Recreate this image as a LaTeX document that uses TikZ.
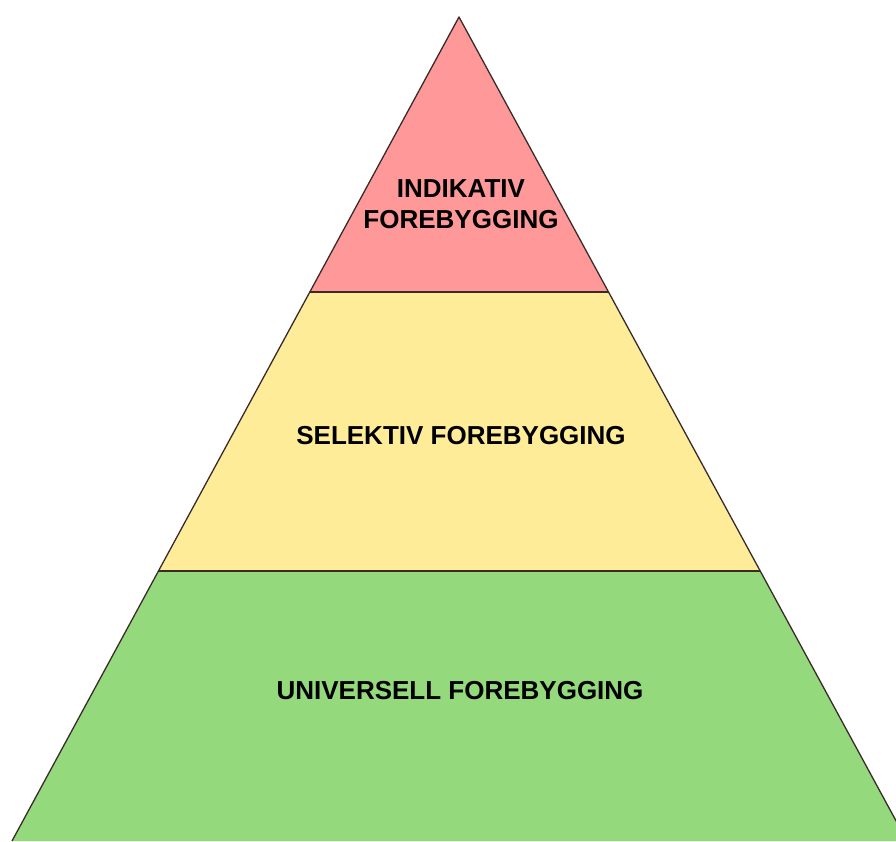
\documentclass[tikz,border=0pt]{standalone}
\usepackage{fontspec}
\setmainfont{Liberation Sans}

\definecolor{rodfarge}{HTML}{FF9999}
\definecolor{gulfarge}{HTML}{FFEC99}
\definecolor{gronnfarge}{HTML}{94DA7D}
\definecolor{strek}{HTML}{3A2A2A}

\begin{document}
\begin{tikzpicture}[x=1pt,y=1pt,
  lbl/.style={font=\fontsize{26}{31}\selectfont\bfseries, align=center, inner sep=0pt},
  kant/.style={draw=strek, line width=1.3pt, line join=round},
  skille/.style={draw=strek, line width=2.2pt}]

\useasboundingbox (0,0) rectangle (896,841);
\clip (0,0) rectangle (896,841);

% Hjørner
\coordinate (topp) at (459,824);
\coordinate (v1) at (310,549);
\coordinate (h1) at (608,549);
\coordinate (v2) at (159,270);
\coordinate (h2) at (760,270);
\coordinate (vb) at (12,0);
\coordinate (hb) at (907,0);

% Fargelag
\fill[rodfarge] (topp) -- (h1) -- (v1) -- cycle;
\fill[gulfarge] (v1) -- (h1) -- (h2) -- (v2) -- cycle;
\fill[gronnfarge] (v2) -- (h2) -- (hb) -- (vb) -- cycle;

% Kanter og skillelinjer
\draw[kant] (vb) -- (topp) -- (hb);
\draw[skille] (v1) -- (h1);
\draw[skille] (v2) -- (h2);

% Tekst
\node[lbl] (indikativ) at (461,637) {INDIKATIV\\FOREBYGGING};
\node[lbl] (selektiv) at (461,405) {SELEKTIV FOREBYGGING};
\node[lbl] (universell) at (460,150) {UNIVERSELL FOREBYGGING};

\end{tikzpicture}
\end{document}
